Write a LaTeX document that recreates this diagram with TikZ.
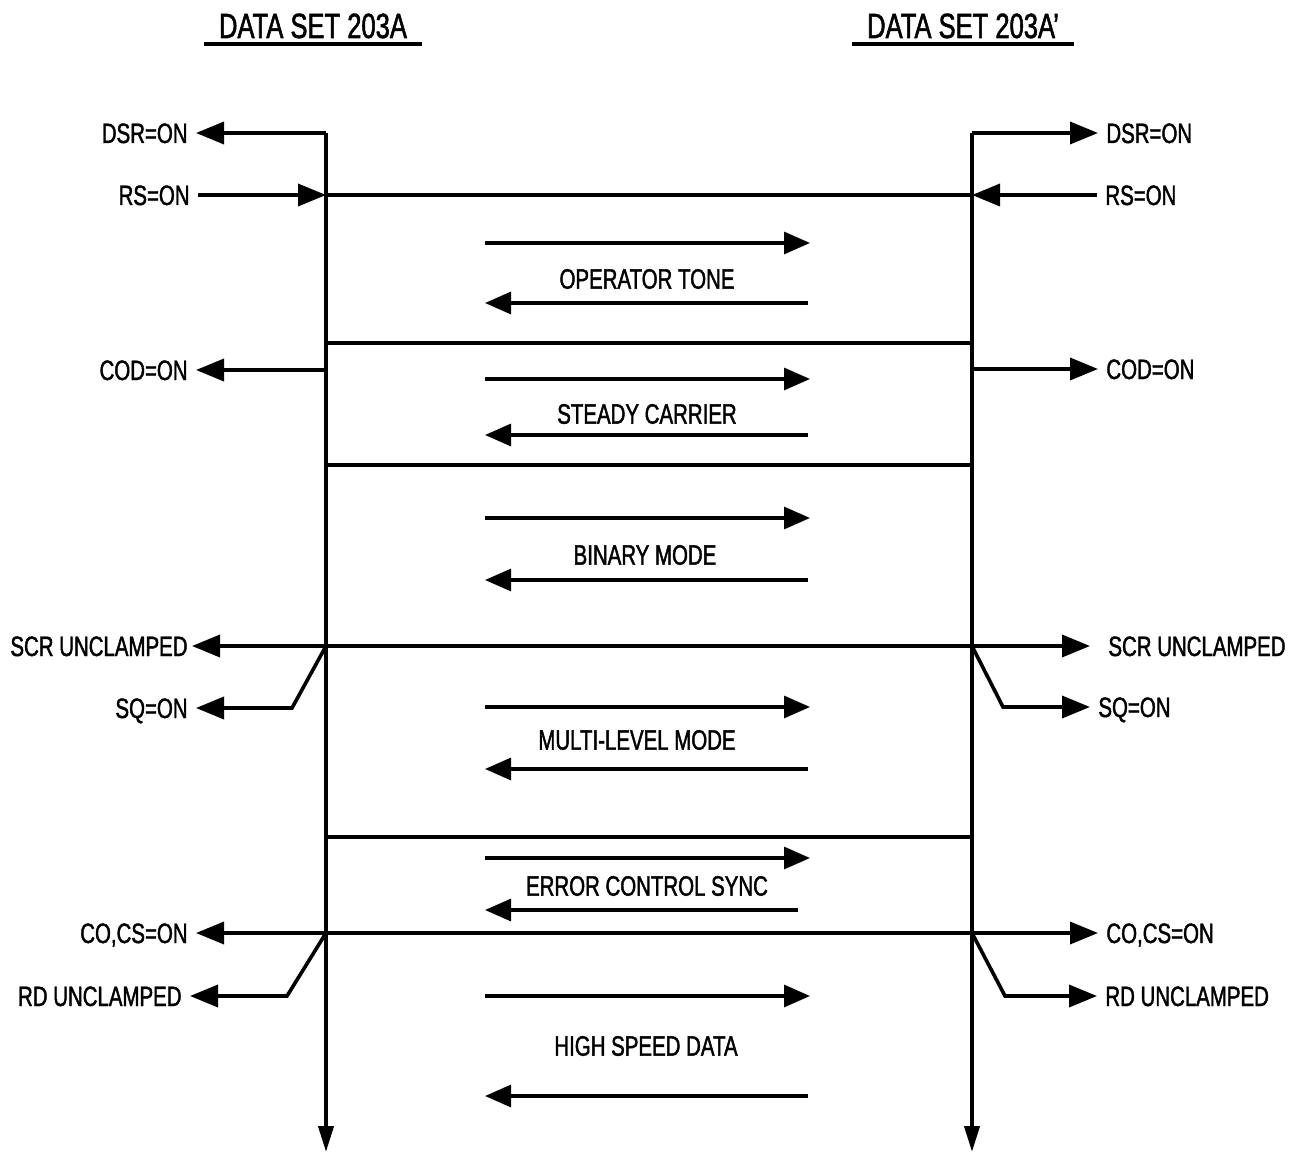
\documentclass[tikz,border=0pt]{standalone}
\usepackage{fontspec}
\setmainfont{Liberation Sans}[FakeStretch=0.73,FakeBold=1.5]
\usetikzlibrary{arrows.meta}
\tikzset{font=\fontsize{14}{16}\selectfont}
\tikzset{rule/.style={line width=1.8pt},
  sig/.style={rule,-{Triangle[length=14pt,width=11pt]}},
  sigboth/.style={rule,{Triangle[length=14pt,width=11pt]}-{Triangle[length=14pt,width=11pt]}},
  down/.style={line width=2pt,-{Triangle[length=13pt,width=7.5pt]}},
  flow/.style={line width=1.6pt,-{Triangle[length=13pt,width=11pt]}},
  lbl/.style={inner sep=4pt,text height=10pt,text depth=0pt},
  phase/.style={inner sep=0pt},
  title/.style={font=\fontsize{17.5}{20}\selectfont,inner xsep=7.5pt,inner ysep=2.5pt,anchor=base}}

\begin{document}
\begin{tikzpicture}[x=0.5pt,y=-0.5pt]
\useasboundingbox (0,0) rectangle (1290,1155);
% titles
\node[title] (setA) at (313,38) {DATA SET 203A};
\node[title] (setB) at (963,38) {DATA SET 203A’};
\draw[rule] (setA.south west) -- (setA.south east);
\draw[rule] (setB.south west) -- (setB.south east);
% the two data sets
\coordinate (Ltop) at (326,133);
\coordinate (Lbot) at (326,1152);
\coordinate (Rtop) at (972,133);
\coordinate (Rbot) at (972,1152);
\draw[down] (Ltop) -- (Lbot);
\draw[down] (Rtop) -- (Rbot);
\coordinate (Lrs) at (326,195);
\coordinate (Rrs) at (972,195);
\coordinate (Lcod) at (326,370);
\coordinate (Rcod) at (972,369);
\coordinate (Lscr) at (326,646);
\coordinate (Rscr) at (972,646);
\coordinate (Lsq) at (292,708);
\coordinate (Rsq) at (1003,707);
\coordinate (Lco) at (326,933);
\coordinate (Rco) at (972,933);
\coordinate (Lrd) at (287,996);
\coordinate (Rrd) at (1005,996);
% left signals
\node[lbl,anchor=east] (dsrL) at (196,133) {DSR=ON};
\node[lbl,anchor=east] (rsL) at (198,195) {RS=ON};
\node[lbl,anchor=east] (codL) at (196,370) {COD=ON};
\node[lbl,anchor=east,inner xsep=2pt] (scrL) at (192,646) {SCR UNCLAMPED};
\node[lbl,anchor=east] (sqL) at (196,708) {SQ=ON};
\node[lbl,anchor=east] (coL) at (196,933) {CO,CS=ON};
\node[lbl,anchor=east] (rdL) at (190,996) {RD UNCLAMPED};
% right signals
\node[lbl,anchor=west] (dsrR) at (1098,133) {DSR=ON};
\node[lbl,anchor=west] (rsR) at (1097,195) {RS=ON};
\node[lbl,anchor=west] (codR) at (1098,369) {COD=ON};
\node[lbl,anchor=west,inner xsep=9pt] (scrR) at (1090,646) {SCR UNCLAMPED};
\node[lbl,anchor=west] (sqR) at (1090,707) {SQ=ON};
\node[lbl,anchor=west] (coR) at (1098,933) {CO,CS=ON};
\node[lbl,anchor=west] (rdR) at (1097,996) {RD UNCLAMPED};
\draw[sig] (Ltop) -- (dsrL.east);
\draw[sig] (Rtop) -- (dsrR.west);
\draw[sig] (rsL.east) -- (Lrs);
\draw[sig] (rsR.west) -- (Rrs);
\draw[rule] (Lrs) -- (Rrs);
\draw[sig] (Lcod) -- (codL.east);
\draw[sig] (Rcod) -- (codR.west);
\draw[sigboth] (scrL.east) -- (scrR.west);
\draw[sig] (Lscr) -- (Lsq) -- (sqL.east);
\draw[sig] (Rscr) -- (Rsq) -- (sqR.west);
\draw[sigboth] (coL.east) -- (coR.west);
\draw[sig] (Lco) -- (Lrd) -- (rdL.east);
\draw[sig] (Rco) -- (Rrd) -- (rdR.west);
% phase boundaries
\foreach \y [count=\i] in {343,465,837} {
  \coordinate (sepL\i) at (326,\y);
  \coordinate (sepR\i) at (972,\y);
  \draw[rule] (sepL\i) -- (sepR\i);
}
% phases
\foreach \name/\txt/\x/\ya/\yl/\yb/\xe in {op/OPERATOR TONE/647/243/279/303/808,
    sc/STEADY CARRIER/647/379/414/435/808, bm/BINARY MODE/645/518/555/580/808,
    ml/MULTI-LEVEL MODE/637/707/740/769/808, ec/ERROR CONTROL SYNC/647/858/886/910/798,
    hs/HIGH SPEED DATA/646/996/1046/1096/808} {
  \node[phase] (\name) at (\x,\yl) {\txt};
  \coordinate (\name-a1) at (485,\ya);
  \coordinate (\name-a2) at (810,\ya);
  \coordinate (\name-b1) at (\xe,\yb);
  \coordinate (\name-b2) at (485,\yb);
  \draw[flow] (\name-a1) -- (\name-a2);
  \draw[flow] (\name-b1) -- (\name-b2);
}
\end{tikzpicture}
\end{document}
